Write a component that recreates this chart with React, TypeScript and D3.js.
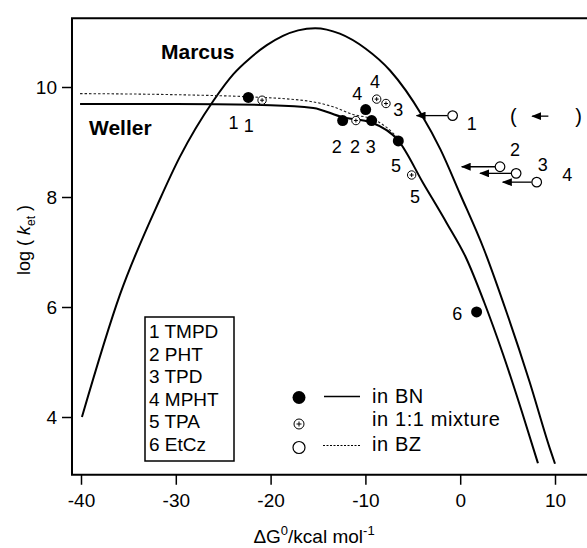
import React, { useEffect, useRef } from "react";
import * as d3 from "d3";

const W = 587;
const H = 548;

// theoretical curves (dG in kcal/mol, log k)
const marcusDG = [-39.9, -35.9, -31.7, -29.6, -26.0, -23.9, -22.2, -20.4, -18.7, -17.1, -15.3, -12.7, -10.0, -7.4, -4.06, -2.1, 0, 2.5, 4.9, 7.3, 9.47, 10.0];
const marcusLogK = [4.0, 6.22, 7.95, 8.72, 9.76, 10.24, 10.52, 10.76, 10.93, 11.03, 11.07, 10.97, 10.7, 10.3, 9.49, 8.87, 8.05, 7.05, 5.9, 4.65, 3.42, 3.15];

const wellerDG = [-40.1, -30, -20, -15.5, -12.4, -9.3, -6.5, -3.9, -1.4, 0.6, 2.5, 4.5, 6.5, 8.2];
const wellerLogK = [9.69, 9.69, 9.67, 9.62, 9.45, 9.35, 9.02, 8.25, 7.52, 6.9, 6.1, 5.15, 4.1, 3.16];

const bzLineDG = [-40.1, -30, -22, -18, -15.5, -13.4, -11.3, -9.3, -7.8, -6.5];
const bzLineLogK = [9.88, 9.86, 9.82, 9.78, 9.73, 9.64, 9.5, 9.42, 9.27, 9.06];

// compounds
const compounds = ["TMPD", "PHT", "TPD", "MPHT", "TPA", "EtCz"];

// in BN (filled)
const bnDG = [-22.35, -12.4, -9.34, -9.97, -6.53, 1.73];
const bnLogK = [9.81, 9.39, 9.39, 9.59, 9.02, 5.91];

// in 1:1 mixture
const mixDG = [-20.9, -11.0, -7.83, -8.81, -5.12];
const mixLogK = [9.76, 9.39, 9.70, 9.78, 8.40];

// in BZ (open) with arrows pointing to corrected dG
const bzDG = [-0.8, 4.2, 5.9, 8.07];
const bzLogK = [9.48, 8.55, 8.43, 8.27];
const bzArrowTo = [-4.6, 0.16, 2.1, 4.5];

const xTicks = [-40, -30, -20, -10, 0, 10];
const yTicks = [4, 6, 8, 10];

// compound numbers written beside the points
const labelText = ["1", "1", "4", "4", "3", "1", "2", "2", "3", "5", "5", "2", "3", "4", "6"];
const labelDG = [-23.9, -22.3, -10.85, -8.99, -6.53, 1.21, -13.03, -11.1, -9.44, -6.77, -4.77, 5.78, 8.7, 11.3, -0.3];
const labelLogK = [9.35, 9.30, 9.88, 10.10, 9.59, 9.34, 8.91, 8.91, 8.91, 8.58, 8.01, 8.87, 8.59, 8.4, 5.89];

const FONT = "'Liberation Sans', Arial, Helvetica, sans-serif";

export default function App() {
  const ref = useRef<SVGSVGElement>(null);

  useEffect(() => {
    const svg = d3.select(ref.current);
    svg.selectAll("*").remove();

    const x = d3.scaleLinear().domain([-40, 10]).range([81, 555]);
    const y = d3.scaleLinear().domain([4, 10]).range([417, 87]);

    const left = x(-40.95);
    const top = y(11.25);
    const bottom = y(2.95);

    svg.append("defs").append("marker")
      .attr("id", "arr")
      .attr("markerUnits", "userSpaceOnUse")
      .attr("markerWidth", 10).attr("markerHeight", 8)
      .attr("refX", 9).attr("refY", 4)
      .attr("orient", "auto")
      .append("path").attr("d", "M0,0 L10,4 L0,8 Z").attr("fill", "#000");

    // frame (top, left, bottom)
    svg.append("path")
      .attr("d", `M${W},${top} H${left} V${bottom} H${W}`)
      .attr("fill", "none").attr("stroke", "#000").attr("stroke-width", 2);

    const xAxis = svg.append("g").attr("transform", `translate(0,${bottom})`)
      .call(d3.axisBottom(x).tickValues(xTicks).tickSize(10).tickPadding(9).tickFormat(d => String(d)));
    const yAxis = svg.append("g").attr("transform", `translate(${left},0)`)
      .call(d3.axisLeft(y).tickValues(yTicks).tickSize(10).tickPadding(5).tickFormat(d => String(d)));
    [xAxis, yAxis].forEach(g => {
      g.select(".domain").remove();
      g.selectAll("line").attr("stroke-width", 1.5);
      g.selectAll("text").attr("font-size", 19).attr("font-family", FONT).attr("fill", "#000");
    });

    const marcus = marcusDG.map((d, i) => [x(d), y(marcusLogK[i])] as [number, number]);
    const weller = wellerDG.map((d, i) => [x(d), y(wellerLogK[i])] as [number, number]);
    const bzLine = bzLineDG.map((d, i) => [x(d), y(bzLineLogK[i])] as [number, number]);
    const lg = d3.line().curve(d3.curveMonotoneX);

    svg.append("path").attr("d", lg(marcus)).attr("fill", "none").attr("stroke", "#000").attr("stroke-width", 2);
    svg.append("path").attr("d", lg(weller)).attr("fill", "none").attr("stroke", "#000").attr("stroke-width", 2);
    svg.append("path").attr("d", lg(bzLine)).attr("fill", "none").attr("stroke", "#222")
      .attr("stroke-width", 1.1).attr("stroke-dasharray", "2.5 2");

    // BZ arrows
    bzDG.forEach((d, i) => {
      svg.append("line")
        .attr("x1", x(d) - 5).attr("y1", y(bzLogK[i]))
        .attr("x2", x(bzArrowTo[i])).attr("y2", y(bzLogK[i]))
        .attr("stroke", "#000").attr("stroke-width", 1.3).attr("marker-end", "url(#arr)");
    });

    // points
    svg.selectAll(".bn").data(bnDG).join("circle")
      .attr("cx", d => x(d)).attr("cy", (d, i) => y(bnLogK[i])).attr("r", 5.5).attr("fill", "#000");

    const mix = svg.selectAll(".mix").data(mixDG).join("g")
      .attr("transform", (d, i) => `translate(${x(d)},${y(mixLogK[i])})`);
    mix.append("circle").attr("r", 4.2).attr("fill", "#fff").attr("stroke", "#000").attr("stroke-width", 1);
    mix.append("path").attr("d", "M-2,0 H2 M0,-2 V2").attr("stroke", "#000").attr("stroke-width", 1);

    svg.selectAll(".bz").data(bzDG).join("circle")
      .attr("cx", d => x(d)).attr("cy", (d, i) => y(bzLogK[i])).attr("r", 4.8)
      .attr("fill", "#fff").attr("stroke", "#000").attr("stroke-width", 1.2);

    // number labels
    svg.selectAll(".lab").data(labelText).join("text")
      .attr("x", (d, i) => x(labelDG[i])).attr("y", (d, i) => y(labelLogK[i]))
      .attr("dy", "0.36em").attr("text-anchor", "middle")
      .attr("font-size", 18).attr("font-family", FONT).text(d => d);

    // ( <- ) note at the right
    const noteY = y(9.47);
    svg.append("text").attr("x", x(5.6)).attr("y", noteY).attr("dy", "0.36em").attr("text-anchor", "middle")
      .attr("font-size", 20).attr("font-family", FONT).text("(");
    svg.append("text").attr("x", x(12.5)).attr("y", noteY).attr("dy", "0.36em").attr("text-anchor", "middle")
      .attr("font-size", 20).attr("font-family", FONT).text(")");
    svg.append("line").attr("x1", x(9.3)).attr("y1", noteY).attr("x2", x(7.6)).attr("y2", noteY)
      .attr("stroke", "#000").attr("stroke-width", 1.3).attr("marker-end", "url(#arr)");

    // curve names
    svg.append("text").attr("x", 161).attr("y", 59).attr("font-size", 21).attr("font-weight", "bold")
      .attr("font-family", FONT).text("Marcus");
    svg.append("text").attr("x", 89).attr("y", 135).attr("font-size", 21).attr("font-weight", "bold")
      .attr("font-family", FONT).text("Weller");

    // compound box
    svg.append("rect").attr("x", 145).attr("y", 317).attr("width", 89).attr("height", 144)
      .attr("fill", "#fff").attr("stroke", "#000").attr("stroke-width", 1.5);
    svg.selectAll(".cmp").data(compounds).join("text")
      .attr("x", 149).attr("y", (d, i) => 338 + i * 22.6)
      .attr("font-size", 19).attr("font-family", FONT).text((d, i) => `${i + 1} ${d}`);

    // solvent legend
    const lx = 299;
    svg.append("circle").attr("cx", lx).attr("cy", 397.5).attr("r", 6.5).attr("fill", "#000");
    svg.append("line").attr("x1", 324).attr("x2", 360).attr("y1", 396.5).attr("y2", 396.5).attr("stroke", "#000").attr("stroke-width", 1.3);
    const lm = svg.append("g").attr("transform", `translate(${lx},424)`);
    lm.append("circle").attr("r", 5).attr("fill", "#fff").attr("stroke", "#000");
    lm.append("path").attr("d", "M-2.5,0 H2.5 M0,-2.5 V2.5").attr("stroke", "#000");
    svg.append("circle").attr("cx", lx).attr("cy", 447.5).attr("r", 6).attr("fill", "#fff").attr("stroke", "#000").attr("stroke-width", 1.2);
    svg.append("line").attr("x1", 323).attr("x2", 360).attr("y1", 445.5).attr("y2", 445.5).attr("stroke", "#000")
      .attr("stroke-width", 1.2).attr("stroke-dasharray", "2 1.5");
    [["in BN", 403], ["in 1:1 mixture", 426], ["in BZ", 451]].forEach(([t, yy]) => {
      svg.append("text").attr("x", 372).attr("y", yy as number).attr("font-size", 20)
        .attr("letter-spacing", 0.6).attr("font-family", FONT).text(t as string);
    });

    // axis titles
    const xt = svg.append("text").attr("x", 314).attr("y", 543).attr("text-anchor", "middle")
      .attr("font-size", 19).attr("font-family", FONT);
    xt.append("tspan").text("\u0394G");
    xt.append("tspan").attr("dy", -8).attr("font-size", 13).text("0");
    xt.append("tspan").attr("dy", 8).text("/kcal mol");
    xt.append("tspan").attr("dy", -8).attr("font-size", 13).text("-1");

    const yt = svg.append("text").attr("transform", "translate(30,240) rotate(-90)").attr("text-anchor", "middle")
      .attr("font-size", 18).attr("font-family", FONT);
    yt.append("tspan").text("log ( ");
    yt.append("tspan").attr("font-style", "italic").text("k");
    yt.append("tspan").attr("dy", 5).attr("font-size", 12).text("et");
    yt.append("tspan").attr("dy", -5).text(" )");
  }, []);

  return (
    <svg ref={ref} width={W} height={H} style={{ position: "absolute", left: 0, top: 0, background: "#fff" }} />
  );
}
